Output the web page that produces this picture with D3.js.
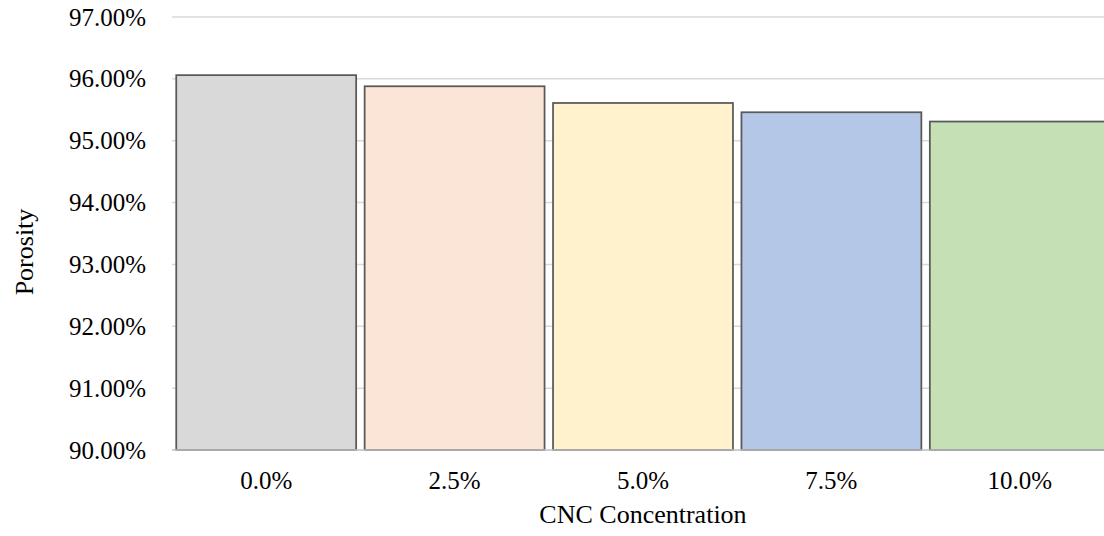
<!DOCTYPE html>
<meta charset="utf-8">
<style>
  body { margin: 0; background: #fff; }
  svg { display: block; }
  text { font-family: "Liberation Serif", "Times New Roman", serif; fill: #000; }
  .grid line { stroke: #d9d9d9; stroke-width: 1.5px; }
  .bar { stroke: #595959; stroke-width: 1.75px; }
</style>
<svg></svg>
<script src="https://cdn.jsdelivr.net/npm/d3@7"></script>
<script>

// data
var categories = ['0.0%', '2.5%', '5.0%', '7.5%', '10.0%']
var porosity = [0.9606, 0.9588, 0.9561, 0.9546, 0.9531]
var barColors = ['#d9d9d9', '#fbe5d6', '#fff2cc', '#b4c7e7', '#c5e0b4']
var yTicks = [0.90, 0.91, 0.92, 0.93, 0.94, 0.95, 0.96, 0.97]

var width = 1104,
    height = 536,
    plotLeft = 172,
    plotRight = 1114,   // plot runs past the window edge like in the reference
    plotTop = 17,
    plotBottom = 450

var svg = d3.select('svg')
            .attr('width', width)
            .attr('height', height)

var x = d3.scaleBand()
          .domain(categories)
          .range([plotLeft, plotRight])
          .paddingInner(0.045)
          .paddingOuter(0.0225)

var y = d3.scaleLinear()
          .domain([0.90, 0.97])
          .range([plotBottom, plotTop])

var fmt = d3.format('.2%')

// gridlines
svg.append('g')
   .attr('class', 'grid')
   .selectAll('line')
   .data(yTicks.filter(d => d > 0.90))
   .enter()
   .append('line')
   .attr('x1', plotLeft)
   .attr('x2', plotRight)
   .attr('y1', d => y(d))
   .attr('y2', d => y(d))

// bars
svg.append('g')
   .selectAll('rect')
   .data(porosity)
   .enter()
   .append('rect')
   .attr('class', 'bar')
   .attr('x', (d, i) => x(categories[i]))
   .attr('y', d => y(d))
   .attr('width', x.bandwidth())
   .attr('height', d => y(0.90) - y(d))
   .attr('fill', (d, i) => barColors[i])

// bottom axis line
svg.append('line')
   .attr('x1', plotLeft)
   .attr('x2', plotRight)
   .attr('y1', plotBottom)
   .attr('y2', plotBottom)
   .attr('stroke', '#bfbfbf')
   .attr('stroke-width', 1.5)

// y tick labels
svg.append('g')
   .selectAll('text')
   .data(yTicks)
   .enter()
   .append('text')
   .attr('x', 146)
   .attr('y', d => y(d))
   .attr('dy', '0.34em')
   .attr('text-anchor', 'end')
   .style('font-size', '25px')
   .text(d => fmt(d))

// x tick labels
svg.append('g')
   .selectAll('text')
   .data(categories)
   .enter()
   .append('text')
   .attr('x', d => x(d) + x.bandwidth() / 2)
   .attr('y', 489)
   .attr('text-anchor', 'middle')
   .style('font-size', '25px')
   .text(d => d)

// axis titles
svg.append('text')
   .attr('x', (plotLeft + plotRight) / 2)
   .attr('y', 523)
   .attr('text-anchor', 'middle')
   .style('font-size', '26px')
   .text('CNC Concentration')

svg.append('text')
   .attr('transform', 'translate(33,252) rotate(-90)')
   .attr('text-anchor', 'middle')
   .style('font-size', '26px')
   .text('Porosity')

</script>
